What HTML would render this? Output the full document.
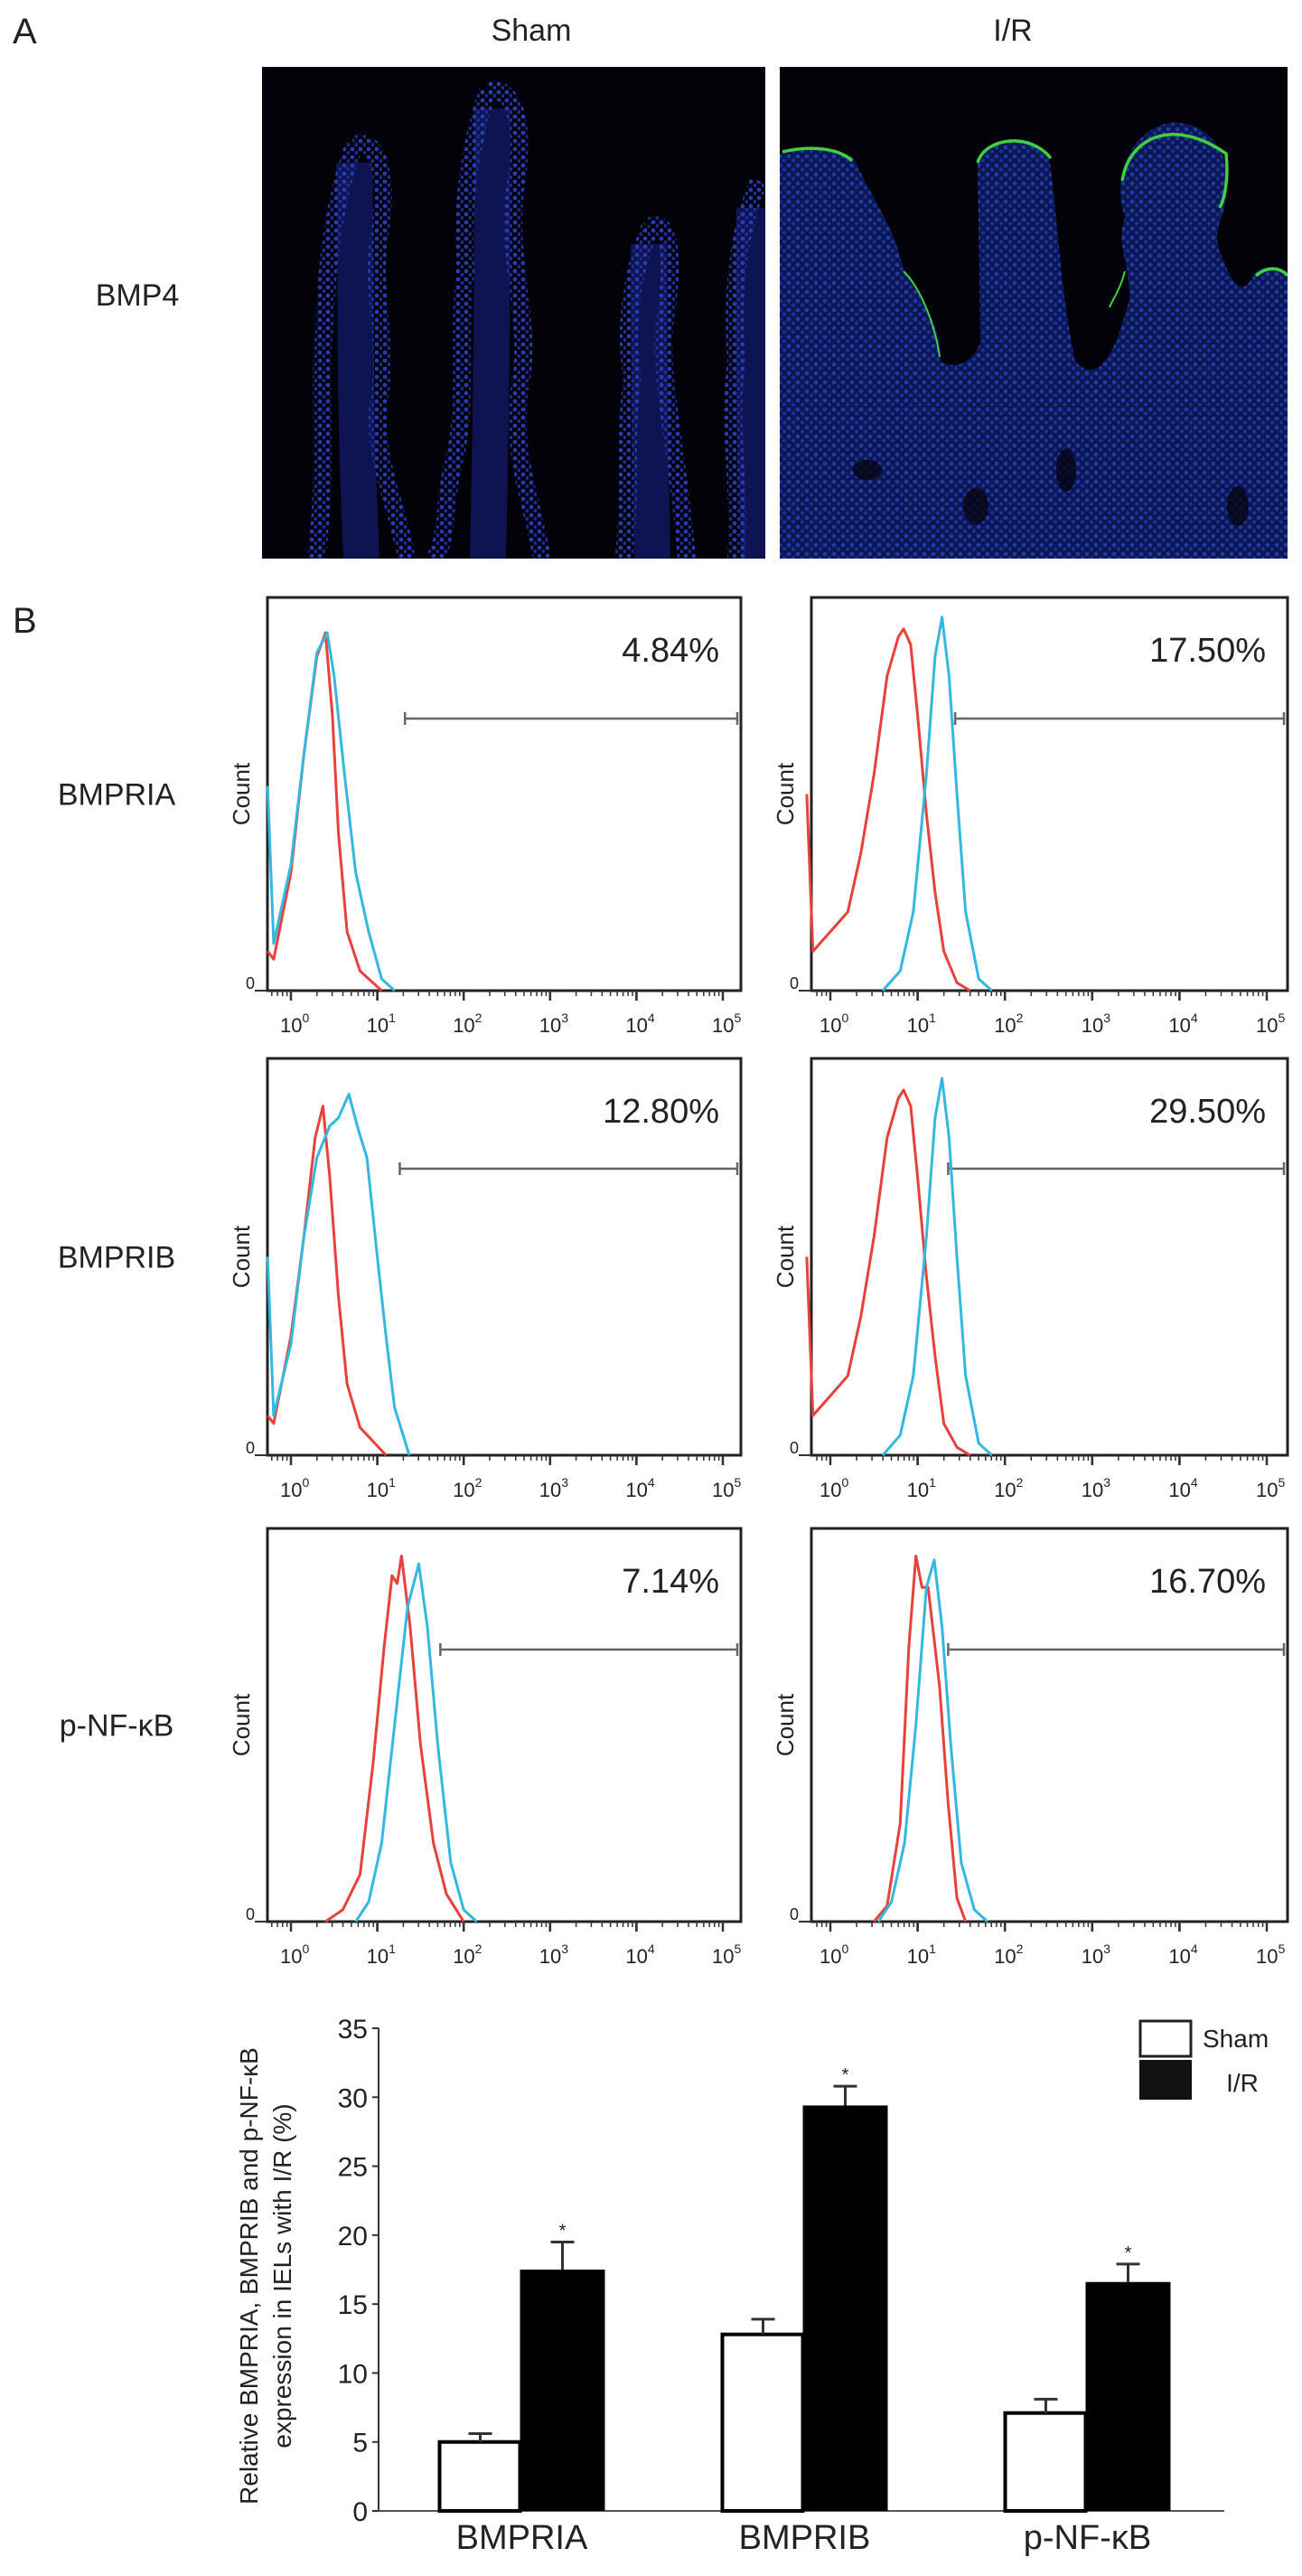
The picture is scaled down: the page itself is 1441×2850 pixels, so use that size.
<!DOCTYPE html>
<html><head><meta charset="utf-8"><style>
html,body{margin:0;padding:0;background:#fff;}
svg{display:block;}
text{font-family:"Liberation Sans",sans-serif;fill:#222;}
.n{font-family:"Liberation Sans Narrow","Liberation Sans",sans-serif;}
</style></head><body>
<svg id="fig" width="1441" height="2850" viewBox="0 0 1441 2850" xmlns="http://www.w3.org/2000/svg">
<defs>
<pattern id="dots" width="9" height="9" patternUnits="userSpaceOnUse"><circle cx="3" cy="3" r="2.4" fill="#2a3ab0"/><circle cx="7.5" cy="7" r="2" fill="#1e2d96"/></pattern>
<pattern id="dots2" width="10" height="10" patternUnits="userSpaceOnUse"><rect width="10" height="10" fill="#0c1650"/><circle cx="3" cy="3" r="2.4" fill="#1f3aa8"/><circle cx="8" cy="7.5" r="2.1" fill="#1a3298"/></pattern>
<clipPath id="clipSham"><rect x="290" y="74" width="557" height="544"/></clipPath>
<clipPath id="clipIR"><rect x="863" y="74" width="562" height="544"/></clipPath>
</defs>
<text x="14" y="48" font-size="40">A</text>
<text x="588" y="45" font-size="34" text-anchor="middle">Sham</text>
<text x="1121" y="45" font-size="34" text-anchor="middle">I/R</text>
<text x="152" y="338" font-size="34" text-anchor="middle">BMP4</text>
<g clip-path="url(#clipSham)">
<rect x="290" y="74" width="557" height="544" fill="#020208"/>
<g fill="none" stroke="#121c70" stroke-width="40" opacity="0.7">
<path d="M392 180 C395 280 390 400 400 618"/><path d="M545 120 C545 250 545 400 540 618"/><path d="M718 270 C718 380 720 500 722 618"/><path d="M835 230 C832 350 835 480 840 618"/>
</g>
<g fill="none" stroke="url(#dots)" stroke-width="20">
<path d="M392 160 C420 150 430 200 420 260 C410 320 430 380 420 440 C410 500 440 560 450 618"/>
<path d="M392 160 C370 220 360 300 360 360 C350 420 365 500 350 618"/>
<path d="M540 100 C575 95 580 150 570 210 C560 290 590 360 575 430 C565 500 590 560 600 618"/>
<path d="M540 100 C520 160 510 230 515 300 C505 380 520 450 500 520 C490 570 495 600 480 618"/>
<path d="M720 250 C700 300 690 360 700 420 C690 480 700 540 690 618"/>
<path d="M720 250 C745 240 745 300 735 360 C730 420 750 500 760 618"/>
<path d="M840 200 C815 260 810 330 815 400 C805 470 820 540 815 618"/>
</g>
</g>
<g clip-path="url(#clipIR)">
<rect x="863" y="74" width="562" height="544" fill="#020208"/>
<path d="M863 618 L863 170 C900 160 930 165 945 175 C970 230 990 250 1000 300 C1030 340 1045 380 1040 400 C1060 410 1075 400 1085 380 L1082 180 C1090 150 1140 145 1160 170 C1170 220 1170 300 1190 400 C1210 420 1230 410 1250 330 C1250 290 1235 270 1245 240 C1230 200 1250 140 1300 135 C1350 140 1365 180 1355 230 C1350 250 1340 260 1355 290 C1370 330 1380 320 1390 300 C1410 290 1425 300 1425 310 L1425 618 Z" fill="url(#dots2)"/>
<g fill="none" stroke="#40d040" stroke-width="3.5">
<path d="M866 168 C900 160 930 165 943 178"/>
<path d="M1082 180 C1090 152 1140 146 1163 175"/>
<path d="M1242 200 C1250 150 1300 130 1357 170 C1360 200 1355 220 1350 230"/>
<path d="M1390 305 C1405 292 1420 298 1425 305"/>
<path d="M1000 300 C1020 320 1035 360 1040 395" stroke-width="2"/>
<path d="M1245 300 C1240 320 1232 330 1228 340" stroke-width="2"/>
</g>
<g fill="#050510" opacity="0.8"><ellipse cx="1180" cy="520" rx="11" ry="24"/><ellipse cx="1080" cy="560" rx="14" ry="20"/><ellipse cx="1370" cy="560" rx="12" ry="22"/><ellipse cx="960" cy="520" rx="16" ry="11"/></g>
</g>
<text x="14" y="700" font-size="40">B</text>
<g id="hists"></g>
<g id="bars"></g>
</svg>
<script>
// ---- flow cytometry data: [log10 value, fraction of max count] ----
const rowLabels = ["BMPRIA", "BMPRIB", "p-NF-\u03BAB"];
const percents = [["4.84%", "17.50%"], ["12.80%", "29.50%"], ["7.14%", "16.70%"]];
const gateStart = [[1.32, 1.43], [1.26, 1.35], [1.73, 1.35]];
const tickExp = [0, 1, 2, 3, 4, 5];
const redCurves = [
 [[[-0.27,0.1],[-0.2,0.08],[0,0.3],[0.15,0.6],[0.3,0.85],[0.4,0.91],[0.48,0.7],[0.55,0.4],[0.65,0.15],[0.8,0.05],[1.05,0]],
  [[-0.27,0.5],[-0.2,0.1],[0,0.15],[0.2,0.2],[0.35,0.35],[0.5,0.55],[0.65,0.8],[0.78,0.9],[0.84,0.92],[0.92,0.88],[1.0,0.7],[1.1,0.45],[1.2,0.25],[1.3,0.1],[1.45,0.02],[1.6,0]]],
 [[[-0.27,0.1],[-0.2,0.08],[0,0.3],[0.15,0.55],[0.28,0.8],[0.37,0.88],[0.45,0.7],[0.55,0.4],[0.65,0.18],[0.8,0.07],[1.1,0]],
  [[-0.27,0.5],[-0.2,0.1],[0,0.15],[0.2,0.2],[0.35,0.35],[0.5,0.55],[0.65,0.8],[0.78,0.9],[0.84,0.92],[0.92,0.88],[1.0,0.7],[1.1,0.45],[1.2,0.25],[1.3,0.08],[1.45,0.02],[1.6,0]]],
 [[[0.4,0],[0.6,0.03],[0.8,0.12],[0.95,0.4],[1.08,0.7],[1.17,0.88],[1.23,0.86],[1.28,0.93],[1.38,0.75],[1.5,0.45],[1.65,0.2],[1.8,0.07],[2.0,0]],
  [[0.5,0],[0.65,0.04],[0.8,0.25],[0.9,0.7],[0.98,0.93],[1.05,0.85],[1.12,0.85],[1.25,0.6],[1.35,0.3],[1.45,0.06],[1.55,0]]]
];
const blueCurves = [
 [[[-0.27,0.52],[-0.2,0.12],[0,0.32],[0.15,0.6],[0.3,0.86],[0.42,0.91],[0.5,0.8],[0.62,0.55],[0.75,0.3],[0.9,0.15],[1.05,0.03],[1.2,0]],
  [[0.6,0],[0.8,0.05],[0.95,0.2],[1.1,0.55],[1.2,0.85],[1.28,0.95],[1.36,0.8],[1.45,0.5],[1.55,0.2],[1.7,0.03],[1.85,0]]],
 [[[-0.27,0.5],[-0.2,0.1],[0,0.28],[0.15,0.55],[0.3,0.75],[0.45,0.83],[0.55,0.85],[0.67,0.91],[0.78,0.82],[0.88,0.75],[1.0,0.5],[1.1,0.3],[1.2,0.12],[1.37,0]],
  [[0.6,0],[0.8,0.05],[0.95,0.2],[1.1,0.55],[1.2,0.85],[1.28,0.95],[1.36,0.8],[1.45,0.5],[1.55,0.2],[1.7,0.03],[1.85,0]]],
 [[[0.75,0],[0.9,0.05],[1.05,0.2],[1.2,0.5],[1.35,0.8],[1.48,0.91],[1.58,0.75],[1.7,0.45],[1.85,0.15],[2.0,0.03],[2.15,0]],
  [[0.55,0],[0.7,0.05],[0.85,0.2],[0.98,0.5],[1.1,0.85],[1.19,0.92],[1.28,0.75],[1.38,0.45],[1.5,0.15],[1.65,0.03],[1.8,0]]]
];
// layout
const rowTop = [661, 1171, 1691], rowAxis = [1096, 1610, 2126];
const colLeft = [296, 898], colRight = [820, 1425], dec0 = [322, 919], decW = [95.6, 96.6];
const NS = "http://www.w3.org/2000/svg";
function mk(tag, attrs, parent){const e=document.createElementNS(NS,tag);for(const k in attrs)e.setAttribute(k,attrs[k]);parent.appendChild(e);return e;}
const H = document.getElementById("hists");
rowLabels.forEach((lab, r) => {
  const t = mk("text", {x:129, y:(rowTop[r]+rowAxis[r])/2+12, "font-size":34, "text-anchor":"middle"}, H);
  t.textContent = lab;
  
  
  for (let c = 0; c < 2; c++) {
    const xS = d => dec0[c] + decW[c]*d;
    const yS = f => rowAxis[r] - f*(rowAxis[r]-rowTop[r]);
    const g = mk("g", {}, H);
    
    
    mk("rect", {x:colLeft[c], y:rowTop[r], width:colRight[c]-colLeft[c], height:rowAxis[r]-rowTop[r], fill:"none", stroke:"#222", "stroke-width":3}, g);
    for (let e = 0; e < 5; e++) for (let m = 1; m <= 10; m++) {
      const x = xS(e + Math.log10(m));
      mk("line", {x1:x, x2:x, y1:rowAxis[r], y2:rowAxis[r]+(m===1||m===10?11:6), stroke:"#333", "stroke-width":m===1||m===10?2.5:1.5}, g);
    }
    for (let m = 6; m <= 9; m++) { const x = xS(-1+Math.log10(m)); if (x>colLeft[c]) mk("line",{x1:x,x2:x,y1:rowAxis[r],y2:rowAxis[r]+6,stroke:"#333","stroke-width":1.5},g); }
    mk("line", {x1:colLeft[c]-14, x2:colLeft[c], y1:rowAxis[r], y2:rowAxis[r], stroke:"#333", "stroke-width":2}, g);
    const z = mk("text", {x:colLeft[c]-24, y:rowAxis[r]-2, "font-size":18}, g); z.textContent = "0";
    tickExp.forEach(e => {
      const tx = mk("text", {x:xS(e)-12, y:rowAxis[r]+46, "font-size":22}, g);
      tx.textContent = "10";
      const sp = mk("tspan", {dy:-11, "font-size":14}, tx); sp.textContent = String(e);
      
      
    });
    const ct = mk("text", {x:0, y:0, "font-size":26, "text-anchor":"middle", transform:`translate(${colLeft[c]-20},${(rowTop[r]+rowAxis[r])/2}) rotate(-90)`}, g);
    ct.textContent = "Count";
    
    
    const pt = mk("text", {x:colRight[c]-24, y:rowTop[r]+71, "font-size":38, "text-anchor":"end"}, g);
    pt.textContent = percents[r][c];
    
    
    const gy = rowTop[r] + (r===1?122:134), gx = xS(gateStart[r][c]);
    const gate = mk("path", {d:`M${gx} ${gy} H${colRight[c]-4} M${gx} ${gy-7} V${gy+7} M${colRight[c]-4} ${gy-7} V${gy+7}`, stroke:"#666", "stroke-width":2.5, fill:"none"}, g);
    
    
    [[redCurves, "#e8413c", "red-curve"], [blueCurves, "#35b8e0", "blue-curve"]].forEach(([arr, col, nm]) => {
      const pts = arr[r][c].map(p => xS(p[0]).toFixed(1) + "," + yS(p[1]).toFixed(1)).join(" ");
      const pl = mk("polyline", {points:pts, fill:"none", stroke:col, "stroke-width":3, "stroke-linejoin":"round"}, g);
      
      
    });
  }
});

// ---- bar chart data ----
const categories = ["BMPRIA", "BMPRIB", "p-NF-\u03BAB"];
const shamValues = [5.0, 12.8, 7.1];
const irValues = [17.5, 29.4, 16.6];
const shamErr = [0.6, 1.1, 1.0];
const irErr = [2.0, 1.4, 1.3];
const yTicks = [0, 5, 10, 15, 20, 25, 30, 35];
const B = document.getElementById("bars");
const x0 = 419, x1 = 1355, yTop = 2244, yBot = 2778, yMax = 35;
const yB = v => yBot - v/yMax*(yBot-yTop);
const step = (x1 - x0 + 3) / categories.length;
const xC = i => x0 + step*(i+0.5);
mk("line", {x1:x0, x2:x0, y1:yTop, y2:yBot, stroke:"#333", "stroke-width":2}, B);
mk("line", {x1:x0, x2:x1, y1:yBot, y2:yBot, stroke:"#555", "stroke-width":2}, B);
yTicks.forEach(v => {
  mk("line", {x1:x0-7, x2:x0, y1:yB(v), y2:yB(v), stroke:"#333", "stroke-width":2}, B);
  const t = mk("text", {x:x0-12, y:yB(v)+11, "font-size":30, "text-anchor":"end", class:"n"}, B);
  t.textContent = v;
  
  
});
const yt = mk("text", {"font-size":28, "text-anchor":"middle", transform:`translate(285,2518) rotate(-90)`}, B);
yt.textContent = "Relative BMPRIA, BMPRIB and p-NF-\u03BAB";


const yt2 = mk("text", {"font-size":28, "text-anchor":"middle", transform:`translate(322,2518) rotate(-90)`}, B);
yt2.textContent = "expression in IELs with I/R (%)";


categories.forEach((cat, i) => {
  const c = xC(i);
  const s = mk("rect", {x:c-89, y:yB(shamValues[i]), width:89, height:yBot-yB(shamValues[i]), fill:"#fff", stroke:"#000", "stroke-width":4}, B);
  
  
  const b = mk("rect", {x:c, y:yB(irValues[i]), width:94, height:yBot-yB(irValues[i]), fill:"#000"}, B);
  
  
  const ex1 = c-44, ex2 = c+47;
  const e1 = mk("path", {d:`M${ex1} ${yB(shamValues[i])} V${yB(shamValues[i]+shamErr[i])} M${ex1-13} ${yB(shamValues[i]+shamErr[i])} H${ex1+13}`, stroke:"#333", "stroke-width":3, fill:"none"}, B);
  
  
  const e2 = mk("path", {d:`M${ex2} ${yB(irValues[i])} V${yB(irValues[i]+irErr[i])} M${ex2-13} ${yB(irValues[i]+irErr[i])} H${ex2+13}`, stroke:"#333", "stroke-width":3, fill:"none"}, B);
  
  
  const st = mk("text", {x:ex2, y:yB(irValues[i]+irErr[i])-6, "font-size":20, "text-anchor":"middle"}, B);
  st.textContent = "*";
  
  
  const cl = mk("text", {x:c+2, y:2820, "font-size":38, "text-anchor":"middle", class:"n"}, B);
  cl.textContent = cat;
  
  
});
const lg = mk("g", {}, B);


mk("rect", {x:1262, y:2236, width:56, height:39, fill:"#fff", stroke:"#222", "stroke-width":3}, lg);
mk("rect", {x:1261, y:2279, width:58, height:44, fill:"#111"}, lg);
const l1 = mk("text", {x:1331, y:2265, "font-size":28}, lg); l1.textContent = "Sham";
const l2 = mk("text", {x:1375, y:2314, "font-size":28, "text-anchor":"middle"}, lg); l2.textContent = "I/R";
</script>
</body></html>
